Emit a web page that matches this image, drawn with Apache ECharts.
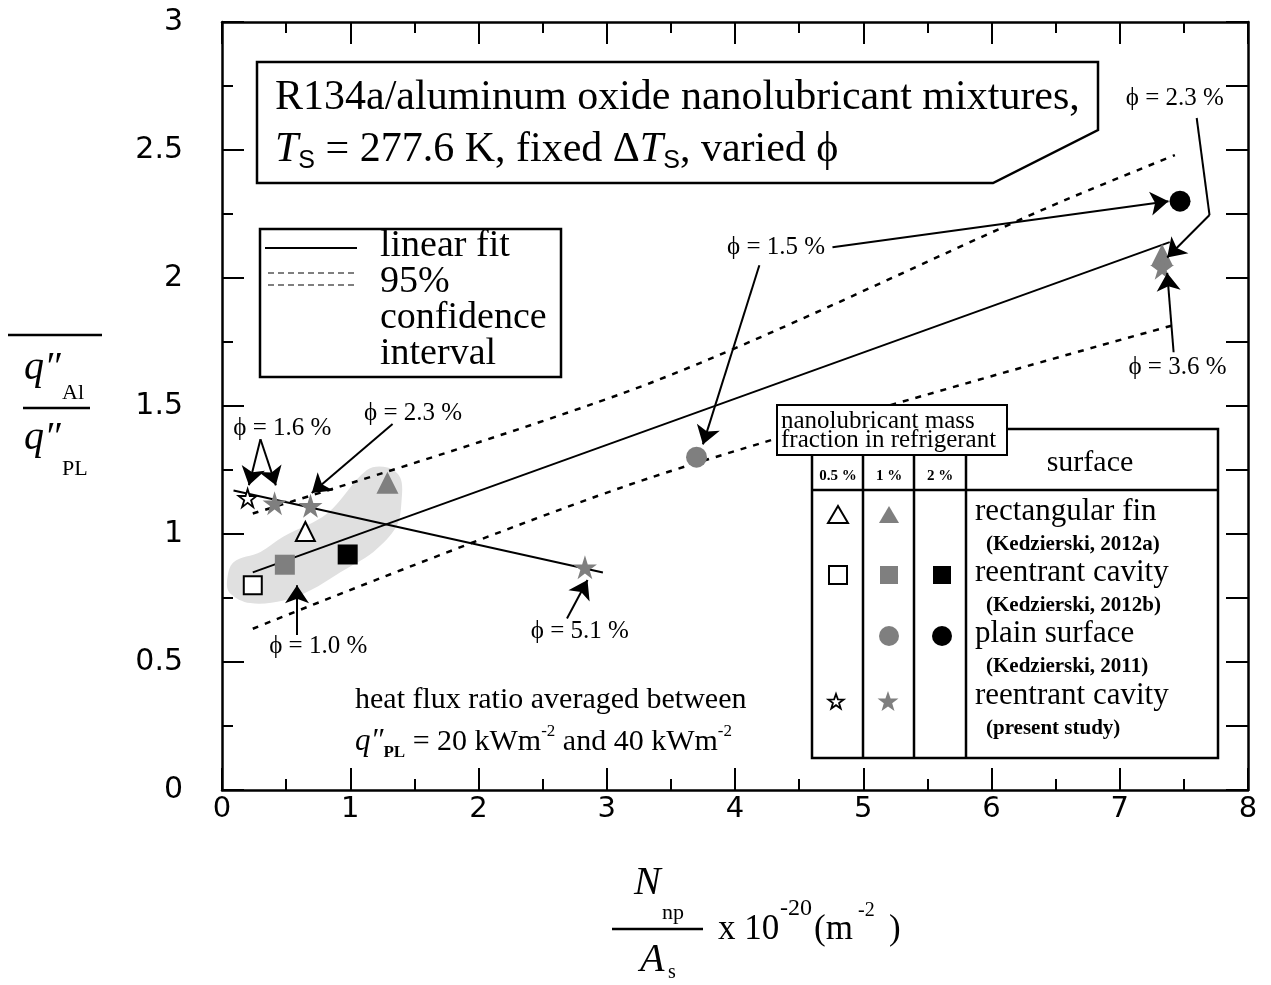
<!DOCTYPE html>
<html>
<head>
<meta charset="utf-8">
<script src="https://cdn.jsdelivr.net/npm/echarts@6/dist/echarts.min.js"></script>
<style>
  html, body { margin: 0; padding: 0; background: #fff; }
  #chart { width: 1271px; height: 985px; }
</style>
</head>
<body>
<div id="chart"></div>
<script>
// Heat flux ratio (aluminum oxide nanolubricant / pure lubricant) versus
// nanoparticle surface density, N_np / A_s  [x 10^20 m^-2]

// measured points, grouped by surface and mass fraction
const openTriangles = [[0.65, 1.01]];                 // rectangular fin, 0.5 %
const grayTriangles = [[1.29, 1.20], [7.33, 2.09]];   // rectangular fin, 1 %
const openSquares   = [[0.24, 0.80]];                 // reentrant cavity 2012b, 0.5 %
const graySquares   = [[0.49, 0.88]];                 // reentrant cavity 2012b, 1 %
const blackSquares  = [[0.98, 0.92]];                 // reentrant cavity 2012b, 2 %
const grayCircles   = [[3.70, 1.30]];                 // plain surface, 1 %
const blackCircles  = [[7.47, 2.30]];                 // plain surface, 2 %
const openStars     = [[0.20, 1.14]];                 // present study, 0.5 %
const grayStars     = [[0.41, 1.12], [0.69, 1.11], [2.83, 0.87], [7.33, 2.04]]; // present study, 1 %

// fitted lines
const linearFit = [[0.24, 0.85], [7.39, 2.14]];
const upperBand = [[0.24, 1.08], [3.34, 1.59], [6.46, 2.28], [7.43, 2.48]];
const lowerBand = [[0.24, 0.63], [3.34, 1.22], [7.45, 1.82]];
const starTrend = [[0.09, 1.17], [2.97, 0.85]];

// shaded region around the low-density cluster
const clusterOutline = [
  [0.04, 0.82], [0.09, 0.89], [0.30, 0.93], [0.48, 0.99], [0.82, 1.08],
  [1.13, 1.25], [1.29, 1.26], [1.39, 1.22], [1.40, 1.13], [1.36, 1.03],
  [1.18, 0.93], [0.92, 0.85], [0.69, 0.78], [0.48, 0.74], [0.22, 0.73],
  [0.06, 0.77]
];

// volume fraction call-outs
const phiLabels = [
  { text: 'ϕ = 1.6 %', at: [0.47, 1.414] },
  { text: 'ϕ = 2.3 %', at: [1.49, 1.47] },
  { text: 'ϕ = 1.0 %', at: [0.75, 0.56] },
  { text: 'ϕ = 5.1 %', at: [2.79, 0.62] },
  { text: 'ϕ = 1.5 %', at: [4.32, 2.12] },
  { text: 'ϕ = 2.3 %', at: [7.43, 2.70] },
  { text: 'ϕ = 3.6 %', at: [7.45, 1.65] }
];
const phiArrows = [
  [[0.30, 1.37], [0.21, 1.19]],
  [[0.30, 1.37], [0.42, 1.19]],
  [[1.33, 1.43], [0.70, 1.16]],
  [[0.585, 0.605], [0.585, 0.80]],
  [[2.69, 0.67], [2.85, 0.82]],
  [[4.19, 2.05], [3.75, 1.35]],
  [[4.76, 2.12], [7.38, 2.30]],
  [[7.70, 2.246], [7.37, 2.08]],
  [[7.42, 1.71], [7.37, 2.02]]
];
const phiLeaders = [
  [[7.60, 2.625], [7.70, 2.246]]
];

const xTicks = { min: 0, max: 8, step: 1 };
const yTicks = { min: 0, max: 3, step: 0.5 };

const GRAY = '#7f7f7f';
const SERIF = '"Liberation Serif", "DejaVu Serif", serif';
const STAR = 'path://M50,0 L61.2,34.5 L97.6,34.5 L68.2,55.9 L79.4,90.5 L50,69.1 L20.6,90.5 L31.8,55.9 L2.4,34.5 L38.8,34.5 Z';

const chart = echarts.init(document.getElementById('chart'), null, { renderer: 'canvas' });

function markerSeries(data, symbol, size, fill, stroke, bw) {
  return {
    type: 'scatter', data, symbol, symbolSize: size, z: 4, silent: true,
    itemStyle: { color: fill, borderColor: stroke || fill, borderWidth: bw || 0, opacity: 1 }
  };
}
function lineSeries(data, type, width, smooth) {
  return {
    type: 'line', data, showSymbol: false, symbol: 'none', z: 3, silent: true,
    smooth: smooth || false,
    lineStyle: { color: '#000', width, type }
  };
}

// frame axes (ticks point inward on all four sides)
const axisLine = { show: true, onZero: false, lineStyle: { color: '#000', width: 2.5 } };
function xAxisDef(pos, labels) {
  return {
    type: 'value', position: pos, min: xTicks.min, max: xTicks.max, interval: xTicks.step,
    axisLine, splitLine: { show: false },
    axisTick: { show: true, inside: true, length: 22, lineStyle: { color: '#000', width: 2 } },
    minorTick: { show: true, splitNumber: 2, length: 11, lineStyle: { color: '#000', width: 2 } },
    axisLabel: labels ? { show: true, color: '#000', fontFamily: 'DejaVu Sans', fontSize: 29, margin: 5 } : { show: false }
  };
}
function yAxisDef(pos, labels) {
  return {
    type: 'value', position: pos, min: yTicks.min, max: yTicks.max,
    interval: labels ? yTicks.step : yTicks.step / 2,
    axisLine, splitLine: { show: false },
    axisTick: { show: true, inside: true, length: 22, lineStyle: { color: '#000', width: 2 } },
    minorTick: { show: labels, splitNumber: 2, length: 11, lineStyle: { color: '#000', width: 2 } },
    axisLabel: labels ? { show: true, color: '#000', fontFamily: 'DejaVu Sans', fontSize: 30, margin: 39 } : { show: false }
  };
}

// ---- annotation graphics ----
function txt(x, y, text, font, extra) {
  return Object.assign({
    type: 'text', x, y, z: 20, silent: true,
    style: Object.assign({ text, font, fill: '#000', align: 'left', verticalAlign: 'middle' }, (extra && extra.style) || {})
  }, extra && extra.el || {});
}
function richTxt(x, y, text, rich) {
  return {
    type: 'text', x, y, z: 20, silent: true,
    style: { text, rich, fill: '#000', align: 'left', verticalAlign: 'middle' }
  };
}
function seg(x1, y1, x2, y2, w, dash, z) {
  return {
    type: 'line', z: z || 20, silent: true,
    shape: { x1, y1, x2, y2 },
    style: { stroke: '#000', lineWidth: w, lineDash: dash || null }
  };
}
function box(x, y, w, h, lw, z) {
  return {
    type: 'rect', z: z || 19, silent: true,
    shape: { x, y, width: w, height: h },
    style: { fill: '#fff', stroke: '#000', lineWidth: lw }
  };
}

const graphics = [];

// title box with clipped corner
graphics.push({
  type: 'polygon', z: 19, silent: true,
  shape: { points: [[257, 62], [1098, 62], [1098, 130], [993, 183], [257, 183]] },
  style: { fill: '#fff', stroke: '#000', lineWidth: 2.5 }
});
graphics.push(txt(275, 98, 'R134a/aluminum oxide nanolubricant mixtures,', '42px ' + SERIF));
graphics.push(richTxt(275, 150,
  '{it|T}{sub|S}{n| = 277.6 K, fixed Δ}{it|T}{sub|S}{n|, varied ϕ}', {
    n: { font: '42px ' + SERIF, lineHeight: 48 },
    it: { font: 'italic 42px ' + SERIF, lineHeight: 48 },
    sub: { font: '25px "Liberation Sans", sans-serif', lineHeight: 20, verticalAlign: 'bottom' }
  }));

// line-style key
graphics.push(box(260, 229, 301, 148, 2.5));
graphics.push(seg(265, 248, 357, 248, 2));
graphics.push(seg(268, 273, 357, 273, 1.2, [6, 4]));
graphics.push(seg(268, 285, 357, 285, 1.2, [6, 4]));
graphics.push(txt(380, 246, 'linear fit', '38px ' + SERIF));
graphics.push(txt(380, 282, '95%', '38px ' + SERIF));
graphics.push(txt(380, 318, 'confidence', '38px ' + SERIF));
graphics.push(txt(380, 354, 'interval', '38px ' + SERIF));

// symbol key table
graphics.push(box(812, 429, 406, 329, 2.5, 18));
graphics.push(seg(812, 490, 1218, 490, 2.5, null, 19));
graphics.push(seg(863, 429, 863, 758, 2.5, null, 19));
graphics.push(seg(914, 429, 914, 758, 2.5, null, 19));
graphics.push(seg(966, 429, 966, 758, 2.5, null, 19));
graphics.push(box(777, 405, 230, 50, 2, 21));
graphics.push(txt(781, 421, 'nanolubricant mass', '25px ' + SERIF, { el: { z: 22 } }));
graphics.push(txt(781, 440, 'fraction in refrigerant', '25px ' + SERIF, { el: { z: 22 } }));
graphics.push(txt(838, 476, '0.5 %', 'bold 15px ' + SERIF, { style: { align: 'center' } }));
graphics.push(txt(889, 476, '1 %', 'bold 15px ' + SERIF, { style: { align: 'center' } }));
graphics.push(txt(940, 476, '2 %', 'bold 15px ' + SERIF, { style: { align: 'center' } }));
graphics.push(txt(1090, 463, 'surface', '30px ' + SERIF, { style: { align: 'center' } }));

const rows = [
  { y: 512, name: 'rectangular fin', ref: '(Kedzierski, 2012a)' },
  { y: 573, name: 'reentrant cavity', ref: '(Kedzierski, 2012b)' },
  { y: 634, name: 'plain surface', ref: '(Kedzierski, 2011)' },
  { y: 696, name: 'reentrant cavity', ref: '(present study)' }
];
rows.forEach(r => {
  graphics.push(txt(975, r.y, r.name, '31px ' + SERIF));
  graphics.push(txt(986, r.y + 33, r.ref, 'bold 21px ' + SERIF));
});

function keyTri(cx, cy, fill, stroke) {
  return { type: 'polygon', z: 21, silent: true,
    shape: { points: [[cx, cy - 9], [cx + 10, cy + 8], [cx - 10, cy + 8]] },
    style: { fill, stroke: stroke || fill, lineWidth: stroke ? 2 : 0 } };
}
function keySq(cx, cy, fill, stroke) {
  return { type: 'rect', z: 21, silent: true,
    shape: { x: cx - 9, y: cy - 9, width: 18, height: 18 },
    style: { fill, stroke: stroke || fill, lineWidth: stroke ? 2 : 0 } };
}
function keyCirc(cx, cy, fill) {
  return { type: 'circle', z: 21, silent: true, shape: { cx, cy, r: 10 }, style: { fill } };
}
function keyStar(cx, cy, size, fill, stroke) {
  const pts = [];
  for (let i = 0; i < 10; i++) {
    const a = -Math.PI / 2 + i * Math.PI / 5;
    const rr = i % 2 === 0 ? size / 2 : size / 2 * 0.4;
    pts.push([cx + rr * Math.cos(a), cy + rr * Math.sin(a)]);
  }
  return { type: 'polygon', z: 21, silent: true, shape: { points: pts },
    style: { fill, stroke: stroke || fill, lineWidth: stroke ? 1.8 : 0 } };
}
graphics.push(keyTri(838, 515, '#fff', '#000'));
graphics.push(keyTri(889, 515, GRAY));
graphics.push(keySq(838, 575, '#fff', '#000'));
graphics.push(keySq(889, 575, GRAY));
graphics.push(keySq(942, 575, '#000'));
graphics.push(keyCirc(889, 636, GRAY));
graphics.push(keyCirc(942, 636, '#000'));
graphics.push(keyStar(836, 702, 16, '#fff', '#000'));
graphics.push(keyStar(888, 702, 22, GRAY));

// averaging note
graphics.push(txt(355, 700, 'heat flux ratio averaged between', '30px ' + SERIF));
graphics.push(richTxt(355, 742,
  '{it|q″}{sub|PL}{n| = 20 kWm}{sup|-2}{n| and 40 kWm}{sup|-2}', {
    n: { font: '30px ' + SERIF, lineHeight: 38 },
    it: { font: 'italic 31px ' + SERIF, lineHeight: 38 },
    sub: { font: 'bold 17px ' + SERIF, lineHeight: 10, verticalAlign: 'bottom' },
    sup: { font: '17px ' + SERIF, lineHeight: 14, verticalAlign: 'top' }
  }));

// y-axis title: averaged ratio q''_Al / q''_PL
graphics.push(seg(8, 335, 102, 335, 2.5));
graphics.push(txt(24, 368, 'q″', 'italic 40px ' + SERIF));
graphics.push(txt(62, 393, 'Al', '22px ' + SERIF));
graphics.push(seg(23, 408, 90, 408, 2.5));
graphics.push(txt(24, 438, 'q″', 'italic 40px ' + SERIF));
graphics.push(txt(62, 469, 'PL', '22px ' + SERIF));

// x-axis title: N_np / A_s x 10^-20 (m^-2)
graphics.push(txt(634, 883, 'N', 'italic 40px ' + SERIF));
graphics.push(txt(662, 913, 'np', '22px ' + SERIF));
graphics.push(seg(612, 929, 703, 929, 2.5));
graphics.push(txt(640, 960, 'A', 'italic 40px ' + SERIF));
graphics.push(txt(668, 973, 's', '20px ' + SERIF));
graphics.push(txt(718, 930, 'x 10', '35px ' + SERIF));
graphics.push(txt(780, 909, '-20', '24px ' + SERIF));
graphics.push(txt(814, 930, '(m', '35px ' + SERIF));
graphics.push(txt(858, 911, '-2', '20px ' + SERIF));
graphics.push(txt(889, 930, ')', '35px ' + SERIF));

const option = {
  backgroundColor: '#fff',
  animation: false,
  grid: { left: 222, top: 22, width: 1026, height: 768, containLabel: false },
  xAxis: [xAxisDef('bottom', true), xAxisDef('top', false)],
  yAxis: [yAxisDef('left', true), yAxisDef('right', false)],
  graphic: { elements: graphics },
  series: [
    {
      type: 'custom', z: 1, silent: true, data: [0],
      renderItem(params, api) {
        return {
          type: 'polygon',
          shape: { points: clusterOutline.map(p => api.coord(p)), smooth: 0.35 },
          style: { fill: '#e0e0e0', stroke: null }
        };
      }
    },
    lineSeries(linearFit, 'solid', 2),
    lineSeries(starTrend, 'solid', 2),
    lineSeries(upperBand, [6, 7], 2.5, 0.3),
    lineSeries(lowerBand, [6, 7], 2.5, 0.3),
    markerSeries(grayTriangles, 'triangle', 22, GRAY),
    markerSeries(graySquares, 'rect', 20, GRAY),
    markerSeries(blackSquares, 'rect', 20, '#000'),
    markerSeries(grayCircles, 'circle', 21, GRAY),
    markerSeries(blackCircles, 'circle', 21, '#000'),
    markerSeries(grayStars, STAR, 24, GRAY),
    markerSeries(openTriangles, 'triangle', 19, '#fff', '#000', 2),
    markerSeries(openSquares, 'rect', 18, '#fff', '#000', 2),
    markerSeries(openStars, STAR, 18, '#fff', '#000', 1.8),
    {
      type: 'lines', coordinateSystem: 'cartesian2d', z: 6, silent: true,
      symbol: ['none', 'arrow'], symbolSize: [0, 18],
      lineStyle: { color: '#000', width: 2, opacity: 1, curveness: 0 },
      data: phiArrows.map(c => ({ coords: c }))
    },
    {
      type: 'lines', coordinateSystem: 'cartesian2d', z: 6, silent: true,
      symbol: ['none', 'none'],
      lineStyle: { color: '#000', width: 2, opacity: 1, curveness: 0 },
      data: phiLeaders.map(c => ({ coords: c }))
    }
  ]
};

chart.setOption(option);

// place the ϕ call-out texts at their data positions
const phiTexts = phiLabels.map(l => {
  const p = chart.convertToPixel({ xAxisIndex: 0, yAxisIndex: 0 }, l.at);
  return txt(p[0], p[1], l.text, '25px ' + SERIF, { style: { align: 'center' } });
});
chart.setOption({ graphic: { elements: graphics.concat(phiTexts) } });
</script>
</body>
</html>
